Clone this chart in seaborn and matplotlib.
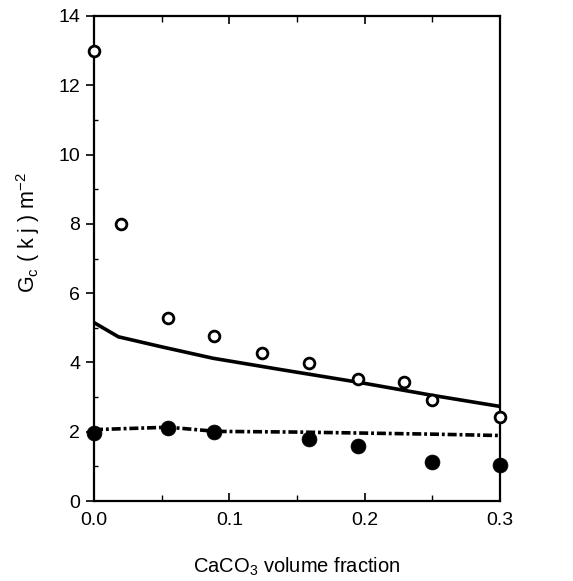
import matplotlib
matplotlib.use("Agg")
import matplotlib.pyplot as plt
import seaborn as sns
from matplotlib.ticker import MultipleLocator

# Data
open_x = [0.0, 0.02, 0.055, 0.089, 0.124, 0.159, 0.195, 0.229, 0.25, 0.3]
open_y = [13.0, 8.0, 5.29, 4.75, 4.28, 3.97, 3.53, 3.43, 2.92, 2.42]
filled_x = [0.0, 0.055, 0.089, 0.159, 0.195, 0.25, 0.3]
filled_y = [1.96, 2.10, 2.00, 1.78, 1.58, 1.13, 1.03]
solid_x = [0.0, 0.018, 0.05, 0.088, 0.137, 0.195, 0.25, 0.3]
solid_y = [5.15, 4.74, 4.45, 4.12, 3.80, 3.43, 3.05, 2.73]
dash_x = [0.0, 0.055, 0.09, 0.15, 0.2, 0.25, 0.3]
dash_y = [2.06, 2.13, 2.01, 1.99, 1.96, 1.93, 1.89]
x_ticks = [0.0, 0.1, 0.2, 0.3]
x_ticklabels = ["0.0", "0.1", "0.2", "0.3"]
y_ticks = [0, 2, 4, 6, 8, 10, 12, 14]

sns.set_style("ticks")
plt.rcParams['font.family'] = ['Liberation Sans', 'DejaVu Sans']
plt.rcParams['mathtext.fontset'] = 'custom'
plt.rcParams['mathtext.rm'] = 'Liberation Sans'
plt.rcParams['mathtext.it'] = 'Liberation Sans:italic'
plt.rcParams['text.color'] = 'black'
plt.rcParams['axes.labelcolor'] = 'black'
plt.rcParams['xtick.color'] = 'black'
plt.rcParams['ytick.color'] = 'black'
plt.rcParams['axes.edgecolor'] = 'black'

fig = plt.figure(figsize=(5.73, 5.81), dpi=100)
ax = fig.add_axes([94/573, 1 - 501/581, (500-94)/573, (501-16)/581])

sns.lineplot(x=solid_x, y=solid_y, ax=ax, color="black", lw=2.6)
sns.lineplot(x=dash_x, y=dash_y, ax=ax, color="black", lw=2.6,
             linestyle=(0, (2.5, 0.8, 0.8, 0.8)))
sns.scatterplot(x=open_x, y=open_y, ax=ax, marker="o", s=60,
                facecolor="white", edgecolor="black", linewidth=2, zorder=5, clip_on=False)
sns.scatterplot(x=filled_x, y=filled_y, ax=ax, marker="o", s=115,
                color="black", edgecolor="black", linewidth=0.5, zorder=5, clip_on=False)

ax.set_xlim(0, 0.3)
ax.set_ylim(0, 14)
ax.set_xticks(x_ticks)
ax.set_xticklabels(x_ticklabels)
ax.set_yticks(y_ticks)
ax.xaxis.set_minor_locator(MultipleLocator(0.05))
ax.yaxis.set_minor_locator(MultipleLocator(1))
ax.tick_params(axis="x", which="major", direction="in", length=6, width=1.2,
               labelsize=14, pad=8, top=True)
ax.tick_params(axis="x", which="minor", direction="in", length=4, width=1.0, top=True)
ax.tick_params(axis="y", which="major", direction="out", length=6, width=1.2,
               labelsize=14, pad=4)
ax.tick_params(axis="y", which="minor", direction="in", length=3, width=1.0)
for sp in ax.spines.values():
    sp.set_linewidth(1.6)
    sp.set_visible(True)

ax.set_xlabel(r"CaCO$_3$ volume fraction", fontsize=14.5)
ax.xaxis.set_label_coords(0.5, -0.113)
ax.set_ylabel(r"G$_{\mathrm{c}}$ ( k j ) m$^{-2}$", fontsize=15.5)
ax.yaxis.set_label_coords(-0.128, 0.553)

fig.savefig("out.png", dpi=100)
